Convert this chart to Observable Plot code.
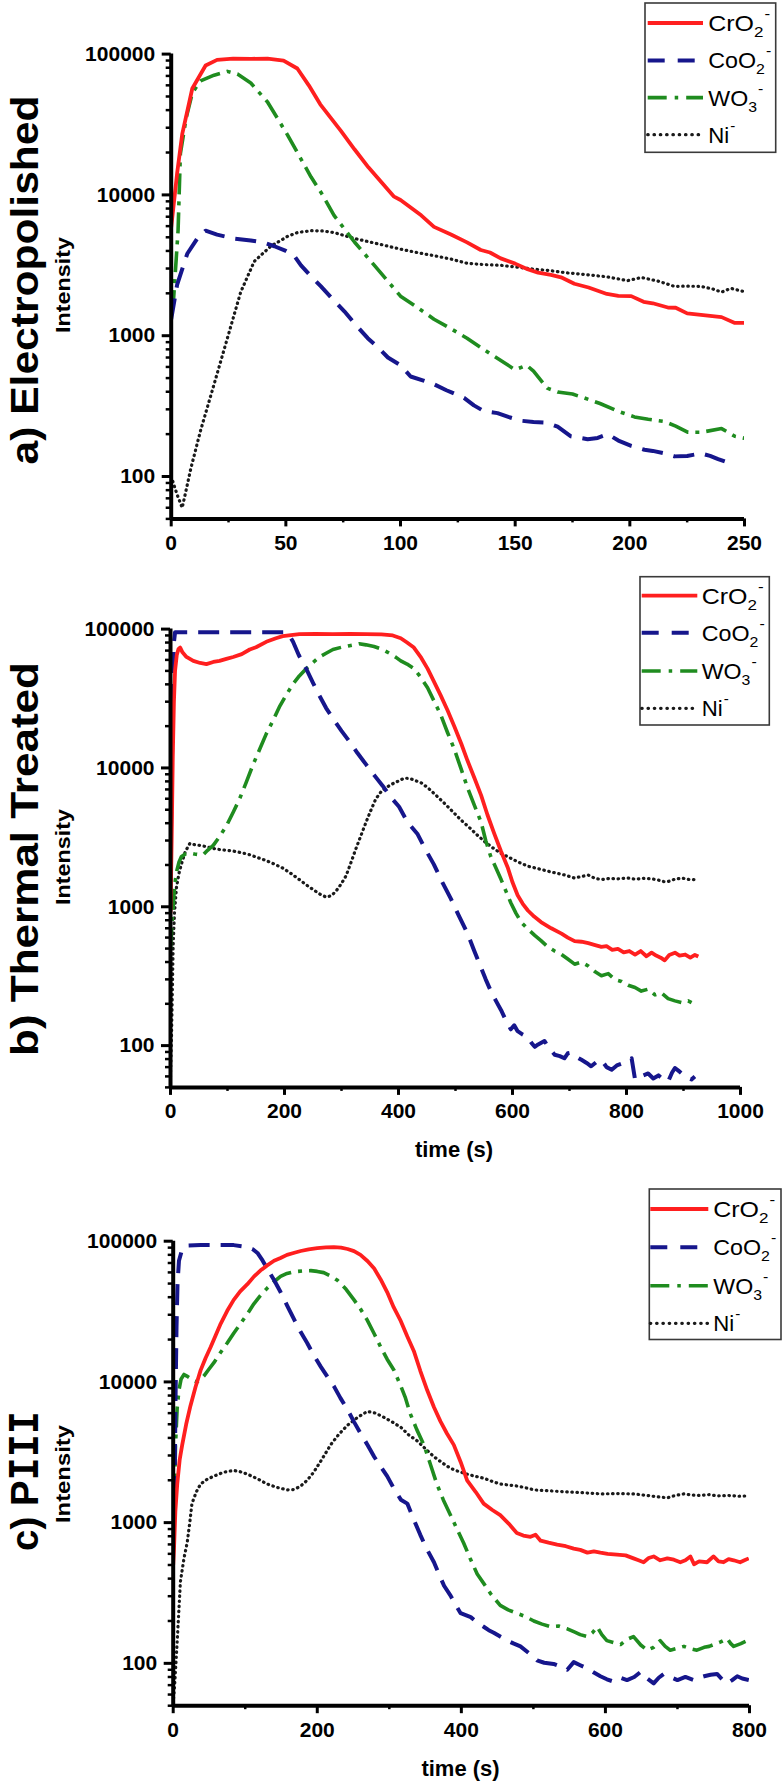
<!DOCTYPE html>
<html><head><meta charset="utf-8">
<script src="https://cdn.jsdelivr.net/npm/d3@7"></script>
<script src="https://cdn.jsdelivr.net/npm/@observablehq/plot@0.6"></script>
<style>
body{margin:0;background:#fff;}
#chart{width:784px;position:relative;}
#chart svg{display:block;overflow:visible;max-width:none;}
</style></head><body><div id="chart"></div>
<script>
// ---------- data: [time (s), intensity] ----------
const aCrO2 = [[0,5900],[2.6,14300],[4.8,27000],[9.2,57000],[15,83000],[20,91000],[27,93000],[35,92500],[42,93000],[49,90000],[55,79000],[60,60000],[65,44000],[74,28500],[80,21000],[86,15700],[97,9770],[100,9200],[109,7160],[114.6,5930],[122,5230],[129,4600],[135,4060],[139,3900],[143.7,3540],[150,3250],[155.4,2970],[160,2800],[165.6,2700],[170,2600],[175.8,2340],[182,2200],[190,1980],[195,1920],[200.6,1910],[206,1740],[210,1700],[216.6,1585],[220,1580],[225,1440],[232,1400],[240,1355],[245.8,1233],[250.5,1233]];
const aCoO2 = [[0,1310],[2.6,2310],[7,3820],[11.4,4900],[15,5570],[20,5220],[27.4,4900],[34.7,4750],[40,4600],[45,4320],[50,4000],[53.6,3700],[56.6,3160],[60,2750],[65.3,2240],[70,1850],[75.5,1490],[80,1220],[85.7,960],[90,830],[94.5,700],[100,617],[104.4,513],[110,480],[114.6,452],[120,410],[127.7,362],[132,320],[136.4,291],[142.3,282],[147,265],[152.5,249],[158,244],[164,241],[168.5,226],[174.3,193],[181.6,184],[186,188],[190.4,200],[195,180],[200.6,165],[206.4,155],[210,152],[215,146],[219.5,139],[225,140],[231,146],[235,140],[238.5,133],[242,127],[245,117]];
const aWO3 = [[0,1500],[1,1780],[3,5600],[4,19600],[6.5,35000],[9.2,53000],[12.8,64500],[18.7,70800],[24.5,75400],[28.9,72100],[34.7,62400],[42,45700],[50.7,26700],[55,20000],[61,13400],[66,10000],[71,7160],[80,4610],[90,2970],[100,1910],[107,1600],[114.6,1310],[122,1120],[129,960],[139,746],[150,573],[155,617],[158,560],[164,424],[168.5,398],[175,385],[180,362],[187,330],[194.8,291],[202,265],[208,255],[215,246],[220,228],[225.4,206],[231,206],[240,219],[245.8,193],[250,187]];
const aNi = [[0,100],[2.5,75],[4.8,60],[6.5,80],[8.5,113],[12.8,212],[18.7,452],[24.5,960],[30.3,2040],[36.2,3370],[43.4,4320],[50.7,5070],[55,5400],[61,5570],[66,5550],[71,5400],[80,4900],[90,4500],[100,4120],[107,3900],[114.6,3700],[122,3500],[129,3270],[136,3200],[143.7,3160],[150,3080],[158,2970],[165,2900],[173,2790],[180,2720],[190,2620],[199,2460],[205,2590],[212,2450],[219.5,2240],[225,2250],[231,2240],[236,2150],[240,2040],[244,2170],[249.4,2065]];

const bCrO2 = [[0,900],[2,3000],[4,12000],[6,30000],[8,50000],[11,65000],[14,72000],[17,73600],[21,68000],[28,63000],[40,59000],[52,57000],[63,56000],[75,58000],[86,59000],[98,61000],[110,63000],[125,66000],[139,71300],[150,74000],[168,81000],[185,86000],[197,89000],[215,91000],[226,92000],[255,92500],[285,92000],[315,92500],[343,92000],[370,91500],[390,90000],[404,86000],[415,80000],[427,73600],[440,62000],[451,51900],[462,42000],[474,33300],[486,26000],[498,19900],[510,15000],[521,11300],[533,8500],[545,6350],[556,4600],[568,3360],[580,2500],[592,1900],[600,1500],[609,1210],[618,1050],[627,940],[638,850],[650,776],[668,700],[686,641],[697,600],[709,565],[721,560],[733,547],[745,530],[756,514],[765,520],[775,490],[785,498],[795,470],[805,480],[815,453],[825,480],[835,440],[844,467],[852,445],[860,430],[867,411],[875,450],[885,467],[893,445],[903,453],[912,430],[920,450],[926,438]];
const bCoO2 = [[0,2000],[2,8000],[4,30000],[6,80000],[8,95000],[50,95000],[100,95000],[150,95000],[203,95000],[210,88000],[215,81000],[225,65000],[238,51900],[250,41000],[261,33300],[273,27000],[285,22700],[300,18500],[314,15500],[328,12800],[343,10600],[358,8800],[372,7450],[386,6200],[401,5250],[416,4060],[433,3360],[447,2600],[462,2020],[477,1500],[492,1140],[506,860],[521,642],[533,480],[545,362],[553,300],[562,247],[571,210],[580,180],[589,150],[597,131],[603,140],[609,127],[618,120],[627,115],[633,105],[639,98],[645,102],[656,108],[665,95],[674,86],[683,84],[691,81],[697,88],[703,89],[712,83],[721,79],[730,75],[738,71],[747,76],[756,79],[765,70],[774,67],[783,72],[791,74],[800,78],[809,81],[815,57],[825,60],[838,63],[847,58],[856,61],[865,57],[873,55],[880,64],[885,69],[891,66],[897,63],[905,59],[914,57],[920,60]];
const bWO3 = [[0,498],[2,700],[4.7,1000],[7,1400],[10.5,1780],[15,2100],[19,2290],[26,2400],[34,2440],[42,2400],[51,2370],[58,2380],[65,2550],[75,2770],[86,3200],[98,3820],[110,4800],[121,5960],[133,7900],[145,10600],[157,13800],[168,17600],[180,22000],[191,27500],[203,33500],[215,40300],[226,46000],[238,51900],[250,57500],[261,62800],[273,67000],[285,71300],[300,74000],[314,76000],[331,78500],[343,77000],[357,75000],[372,71300],[384,67000],[395,62800],[404,59000],[415,56000],[427,51900],[439,45000],[451,37800],[462,30500],[474,24200],[486,18000],[498,13600],[510,9800],[521,7220],[533,5400],[545,4060],[553,3000],[562,2290],[571,1900],[580,1570],[589,1280],[597,1070],[606,900],[615,776],[627,690],[639,622],[650,570],[662,514],[674,480],[686,453],[697,420],[709,386],[721,400],[733,374],[745,340],[756,319],[768,330],[780,299],[791,290],[803,272],[815,262],[826,247],[838,255],[850,232],[861,240],[873,218],[885,210],[897,204],[908,210],[920,198]];
const bNi = [[0,60],[2,130],[4.7,531],[7,900],[10.5,1380],[15,1750],[19,2020],[26,2500],[34,2860],[42,2800],[51,2770],[65,2700],[80,2600],[95,2560],[110,2520],[125,2450],[139,2370],[153,2260],[168,2150],[182,2030],[197,1900],[212,1730],[226,1570],[240,1420],[255,1290],[264,1220],[273,1175],[282,1200],[290,1290],[299,1450],[308,1670],[316,2050],[325,2600],[334,3250],[343,4060],[351,4900],[360,5960],[369,6700],[378,7220],[390,7700],[401,8090],[410,8450],[420,8400],[427,8180],[440,7800],[451,7220],[465,6400],[480,5590],[495,4850],[510,4200],[525,3700],[539,3260],[553,2900],[568,2610],[580,2420],[592,2290],[610,2100],[627,1960],[645,1880],[668,1780],[690,1700],[709,1610],[720,1650],[733,1690],[745,1600],[756,1570],[770,1600],[785,1590],[803,1610],[815,1580],[830,1600],[844,1590],[855,1560],[865,1520],[873,1520],[885,1580],[897,1610],[910,1570],[920,1570]];

const cCrO2 = [[0,500],[1,630],[3,1200],[5.6,1880],[9,2800],[12.5,3570],[18,5000],[24,6780],[31,9200],[38,12080],[45,14800],[52,17700],[59,21500],[66,26000],[75,32000],[84,38300],[93,44000],[103,49500],[112,56000],[121,61800],[130,67000],[140,72600],[149,76000],[158,80000],[167,82500],[177,85200],[188,87500],[200,89200],[212,90300],[223,90800],[233,90000],[242,88000],[251,85000],[260,80000],[270,72000],[279,63900],[288,53500],[297,43500],[306,34000],[316,27000],[325,21000],[334,16600],[343,12000],[352.5,8750],[362,6600],[371,5240],[380,4300],[389.5,3570],[399,2700],[408,2000],[420,1650],[431,1365],[443,1230],[454,1130],[466,980],[477,845],[486,810],[496,793],[503,820],[510,744],[521,720],[533,697],[545,680],[556,653],[565,640],[575,612],[584,625],[593,612],[603,600],[616,593],[628,585],[639,557],[646,540],[653,523],[660,560],[667,575],[676,540],[686,557],[695,545],[704,523],[711,540],[718,575],[723,506],[730,530],[741,523],[750,575],[757,530],[764,523],[771,550],[778,540],[787,523],[793,540],[799,557]];
const cCoO2 = [[0,900],[2,1880],[3.3,8000],[4.6,24400],[6,50000],[8,72600],[12.5,88000],[20,93000],[38,93800],[60,93800],[84,93800],[103,90800],[110,88000],[117,82500],[124,73000],[130.5,63800],[140,53000],[149,43500],[158,35000],[168,27700],[177,22600],[186,18900],[195,15500],[205,12800],[214,10900],[223,9330],[232,7700],[242,6350],[251,5200],[260,4320],[270,3550],[279,2940],[288,2500],[297,2140],[306,1760],[316,1456],[325,1365],[334,1050],[343,819],[352,650],[362,523],[369,430],[376,356],[385,303],[392,260],[399,227],[406,220],[413,213],[422,195],[431,182],[438,172],[445,165],[454,155],[464,145],[473,138],[482,132],[494,118],[505,105],[515,101],[528,99],[537,95],[547,90],[556,102],[565,97],[575,92],[584,86],[593,81],[602,77],[612,74],[621,79],[630,76],[640,80],[649,87],[658,78],[667,72],[674,79],[681,84],[690,80],[700,76],[711,80],[723,76],[730,79],[737,81],[746,83],[755,84],[762,77],[769,72],[776,76],[783,81],[790,78],[799,76]];
const cWO3 = [[0,700],[1,991],[3.2,3570],[5.5,6500],[8,8750],[11,10500],[15,11300],[19,11000],[24,10600],[28,10200],[33,10000],[38,10400],[42.5,11000],[49,12200],[56.5,13700],[65,16000],[75,18900],[84,22200],[93.5,26000],[103,30500],[112,35900],[121,41000],[130.5,46400],[140,51500],[149,56200],[158,59000],[168,60700],[180,61500],[191,61800],[200,61000],[209,59800],[219,56500],[228,52700],[240,45500],[251,38300],[260,33000],[269,27700],[279,22000],[288,17700],[297,14500],[306.5,12100],[316,9330],[322,7800],[329,5960],[338,4600],[348,3570],[357,2600],[366,1880],[375,1450],[385,1130],[394,900],[403,720],[412,560],[422,431],[431,370],[440.5,313],[447,285],[454,258],[465,240],[477,227],[489,215],[500.6,200],[512,190],[524,182],[535,184],[547,176],[556,168],[565,160],[575,155],[582,165],[588.5,182],[595,160],[602,145],[612,140],[621,136],[630,148],[639,155],[649,135],[658,124],[667,130],[676,145],[683,132],[690,124],[700,128],[709,132],[718,127],[727,124],[737,130],[744,132],[750.5,136],[760,142],[769,150],[774,138],[778,132],[788,138],[797,145],[800,140]];
const cNi = [[0,52],[2,70],[5.6,145],[10,380],[15,560],[19.4,720],[23,1000],[26,1365],[32,1650],[38,1880],[47,2030],[56.5,2140],[70,2280],[84,2350],[93,2300],[103,2210],[117,2050],[130.5,1880],[144,1780],[158,1710],[168,1720],[177,1820],[186,2000],[195,2280],[207,2850],[218.5,3570],[230,4250],[242,4920],[256,5600],[269.5,6170],[281,6000],[292.6,5600],[304,5200],[316,4760],[327,4200],[339,3800],[350,3350],[362,2940],[374,2650],[385,2430],[397,2300],[408,2210],[420,2130],[431,2070],[443,1960],[454,1880],[466,1850],[477,1820],[489,1770],[500.6,1710],[524,1680],[547,1655],[570,1630],[593,1600],[616,1610],[639,1600],[662,1550],[675,1520],[686,1500],[697,1560],[709,1600],[720,1570],[732,1560],[744,1580],[755,1550],[770,1560],[785,1540],[799,1550]];

// ---------- labels & ticks ----------
const seriesKeys = ["CrO2-", "CoO2-", "WO3-", "Ni-"];
const legendBase = ["CrO", "CoO", "WO", "Ni"];
const legendSub = ["2", "2", "3", ""];
const panelTitles = ["a) Electropolished", "b) Thermal Treated", "c) PIII"];
const yLabel = "Intensity";
const xLabel = "time (s)";
const yMajorTicks = [100, 1000, 10000, 100000];
const yMinorTicks = [50,60,70,80,90,200,300,400,500,600,700,800,900,2000,3000,4000,5000,6000,7000,8000,9000,20000,30000,40000,50000,60000,70000,80000,90000];
const yDomain = [50, 100000];
const xDomains = [[0, 250], [0, 1000], [0, 800]];
const xMajorTicks = [[0,50,100,150,200,250],[0,200,400,600,800,1000],[0,200,400,600,800]];
const xMinorTicks = [[25,75,125,175,225],[100,300,500,700,900],[100,300,500,700]];

// ---------- styles ----------
const seriesStyle = {
  "CrO2-": {color: "#ff1f1f", width: 3.8, dash: null, cap: "butt", legendDash: null},
  "CoO2-": {color: "#16168c", width: 4, dash: "21,11", cap: "butt", legendDash: "17,13"},
  "WO3-":  {color: "#1f8c1f", width: 3.6, dash: "21,7,4,7", cap: "butt", legendDash: "19,8,3.5,8"},
  "Ni-":   {color: "#1a1a1a", width: 3.2, dash: "0.5,4.6", cap: "round", legendDash: "0.5,5.8"}
};
const FONT = "'Liberation Sans', Arial, Helvetica, sans-serif";
const legendLengths = [62, 63, 55, 27];

function rowsOf(list) {
  const rows = [];
  list.forEach((pts, i) => pts.forEach(([t, v]) => rows.push({series: seriesKeys[i], t, v})));
  return rows;
}

const panels = [
  {data: [aCrO2, aCoO2, aWO3, aNi], height: 570, mt: 53.6, mb: 51.6, ml: 170.7, mr: 40,
   title: {y: 280, len: 369}, ylab: {y: 285, len: 96}, xlab: null,
   legend: {x0: 645, x1: 775.7, y0: 3, y1: 152.3, lx0: 646.7, lx1: 703, tx: 708.3, rows: [23, 60.4, 97.6, 134.7]}},
  {data: [bCrO2, bCoO2, bWO3, bNi], height: 610, mt: 58.6, mb: 93.1, ml: 170, mr: 44,
   title: {y: 289, len: 394}, ylab: {y: 287, len: 96}, xlab: {x: 454, y: 587},
   legend: {x0: 640, x1: 769.3, y0: 6.7, y1: 155, lx0: 640.7, lx1: 697.3, tx: 701.7, rows: [25.7, 62.7, 101, 138.3]}},
  {data: [cCrO2, cCoO2, cWO3, cNi], height: 606, mt: 60.7, mb: 80.8, ml: 172.7, mr: 35,
   title: {y: 301, len: 140}, ylab: {y: 294, len: 98}, xlab: {x: 460.5, y: 596},
   legend: {x0: 649.3, x1: 781, y0: 9, y1: 159.5, lx0: 649.3, lx1: 708.3, tx: 713.3, rows: [29, 67.3, 105.7, 143.3]}}
];

const container = document.getElementById("chart");

panels.forEach((p, k) => {
  const rows = rowsOf(p.data);
  const lineMarks = seriesKeys.map(key => {
    const s = seriesStyle[key];
    return Plot.line(rows.filter(r => r.series === key), {
      x: "t", y: "v", stroke: s.color, strokeWidth: s.width,
      strokeDasharray: s.dash, strokeLinecap: s.cap, strokeLinejoin: "round", clip: true
    });
  });
  const svg = Plot.plot({
    width: 784, height: p.height,
    marginTop: p.mt, marginBottom: p.mb, marginLeft: p.ml, marginRight: p.mr,
    style: {fontFamily: FONT, fontSize: "21px", fontWeight: "bold", color: "#000", background: "#fff"},
    x: {domain: xDomains[k]},
    y: {type: "log", domain: yDomain},
    marks: [
      ...lineMarks.reverse(),
      Plot.axisY({ticks: yMinorTicks, tickSize: 5, strokeWidth: 2.5, tickFormat: () => "", label: null}),
      Plot.axisY({ticks: yMajorTicks, tickSize: 9, tickPadding: 7, strokeWidth: 3, tickFormat: d => String(d), label: null, fontSize: 21, fontWeight: "bold"}),
      Plot.axisX({ticks: xMinorTicks[k], tickSize: 4, strokeWidth: 2.5, tickFormat: () => "", label: null}),
      Plot.axisX({ticks: xMajorTicks[k], tickSize: 8, tickPadding: 8, strokeWidth: 3, tickFormat: d => String(d), label: null, fontSize: 21, fontWeight: "bold"}),
      Plot.ruleX([xDomains[k][0]], {stroke: "#000", strokeWidth: 4}),
      Plot.ruleY([yDomain[0]], {stroke: "#000", strokeWidth: 4})
    ]
  });
  container.appendChild(svg);
  const g = d3.select(svg).append("g").attr("text-anchor", "start");

  // panel title (rotated)
  const tt = g.append("text")
    .attr("transform", `translate(38,${p.title.y}) rotate(-90)`)
    .attr("text-anchor", "middle").attr("font-family", FONT).attr("font-weight", "bold")
    .attr("font-size", 39).attr("fill", "#000")
    .attr("textLength", p.title.len).attr("lengthAdjust", "spacingAndGlyphs");
  if (k === 2) {
    tt.append("tspan").text("c) P");
    tt.append("tspan").attr("font-family", "'DejaVu Sans Mono', monospace").text("III");
  } else {
    tt.text(panelTitles[k]);
  }

  // y label
  g.append("text")
    .attr("transform", `translate(70,${p.ylab.y}) rotate(-90)`)
    .attr("text-anchor", "middle").attr("font-family", FONT).attr("font-weight", "bold")
    .attr("font-size", 20).attr("fill", "#000")
    .attr("textLength", p.ylab.len).attr("lengthAdjust", "spacingAndGlyphs")
    .text(yLabel);

  // x label
  if (p.xlab) {
    g.append("text").attr("x", p.xlab.x).attr("y", p.xlab.y)
      .attr("text-anchor", "middle").attr("font-family", FONT).attr("font-weight", "bold")
      .attr("font-size", 22).attr("fill", "#000").text(xLabel);
  }

  // legend
  const L = p.legend;
  const lg = g.append("g");
  lg.append("rect").attr("x", L.x0).attr("y", L.y0).attr("width", L.x1 - L.x0).attr("height", L.y1 - L.y0)
    .attr("fill", "#fff").attr("stroke", "#3a3a3a").attr("stroke-width", 1.6);
  seriesKeys.forEach((key, i) => {
    const s = seriesStyle[key];
    const y = L.rows[i];
    lg.append("line").attr("x1", L.lx0 + 1).attr("x2", L.lx1).attr("y1", y).attr("y2", y)
      .attr("stroke", s.color).attr("stroke-width", s.width)
      .attr("stroke-dasharray", s.legendDash).attr("stroke-linecap", s.cap);
    const t = lg.append("text").attr("x", L.tx).attr("y", y + 8)
      .attr("text-anchor", "start")
      .attr("font-family", FONT).attr("font-weight", "normal").attr("font-size", 22).attr("fill", "#000")
      .attr("textLength", legendLengths[i]).attr("lengthAdjust", "spacingAndGlyphs");
    t.append("tspan").text(legendBase[i]);
    if (legendSub[i]) {
      t.append("tspan").attr("font-size", 15).attr("dy", 6).text(legendSub[i]);
      t.append("tspan").attr("font-size", 15).attr("dy", -18).attr("dx", 1).text("-");
    } else {
      t.append("tspan").attr("font-size", 15).attr("dy", -12).attr("dx", 1).text("-");
    }
  });
});
</script>
</body></html>
